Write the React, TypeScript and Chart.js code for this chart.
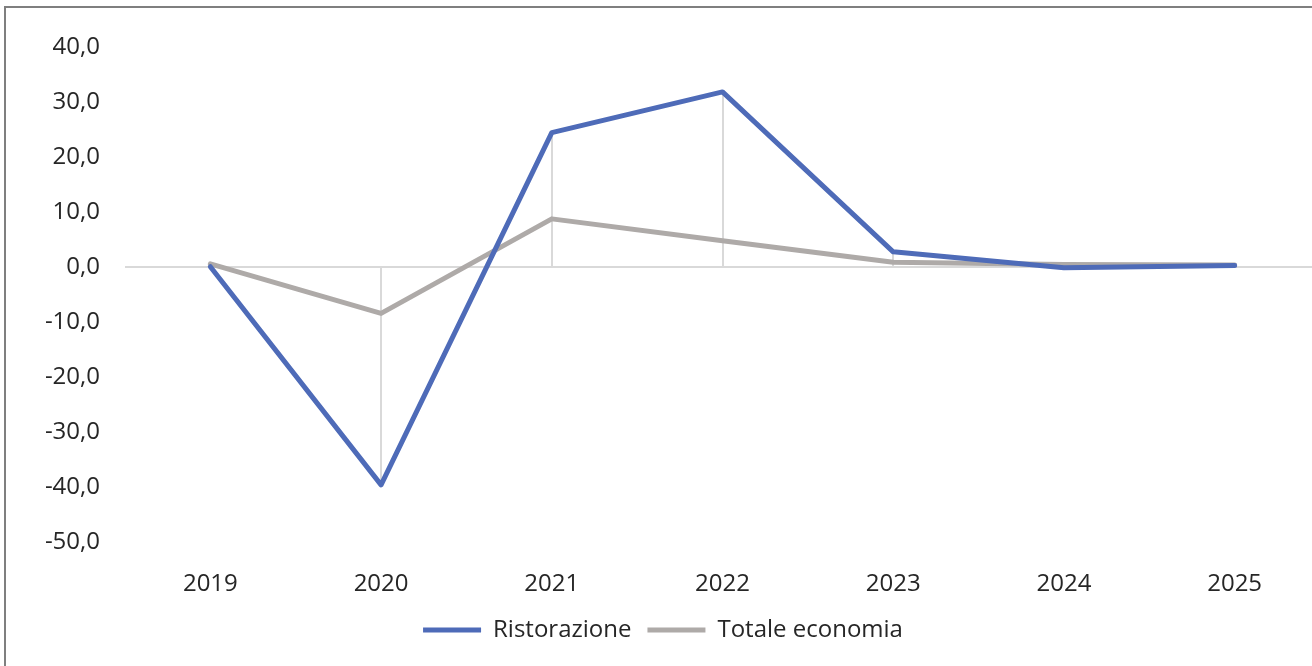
import React, { useEffect, useRef } from "react";
import { Chart, registerables } from "chart.js";

Chart.register(...registerables);

const categories = ["2019", "2020", "2021", "2022", "2023", "2024", "2025"];
const ristorazione = [0.1, -39.6, 24.5, 31.9, 2.8, -0.1, 0.3];
const totaleEconomia = [0.6, -8.4, 8.8, 4.8, 0.9, 0.5, 0.4];
const seriesNames = ["Ristorazione", "Totale economia"];
const yMin = -50;
const yMax = 40;
const yStep = 10;

const BLUE = "#4E6BB8";
const GRAY = "#AEAAA8";
const FONT = "'Open Sans', sans-serif";

const dropLines = {
  id: "dropLines",
  beforeDatasetsDraw(chart: any) {
    const { ctx, scales } = chart;
    const y = scales.y;
    const zero = y.getPixelForValue(0);
    ctx.save();
    ctx.strokeStyle = "#D9D9D9";
    ctx.lineWidth = 2;
    chart.data.datasets.forEach((ds: any, di: number) => {
      const meta = chart.getDatasetMeta(di);
      meta.data.forEach((pt: any) => {
        ctx.beginPath();
        ctx.moveTo(Math.round(pt.x), zero);
        ctx.lineTo(Math.round(pt.x), pt.y);
        ctx.stroke();
      });
    });
    ctx.restore();
  },
};

export default function App() {
  const ref = useRef<HTMLCanvasElement | null>(null);
  useEffect(() => {
    if (!ref.current) return;
    const chart = new Chart(ref.current, {
      type: "line",
      data: {
        labels: categories,
        datasets: [
          {
            label: seriesNames[0],
            data: ristorazione,
            borderColor: BLUE,
            backgroundColor: BLUE,
            borderWidth: 5,
            pointRadius: 0,
            pointStyle: "line",
            tension: 0,
            borderCapStyle: "round",
            borderJoinStyle: "round",
          },
          {
            label: seriesNames[1],
            data: totaleEconomia,
            borderColor: GRAY,
            backgroundColor: GRAY,
            borderWidth: 5,
            pointRadius: 0,
            pointStyle: "line",
            tension: 0,
            borderCapStyle: "round",
            borderJoinStyle: "round",
          },
        ],
      },
      options: {
        responsive: false,
        animation: false,
        layout: { padding: { top: 36, right: 16, bottom: 14, left: 0 } },
        plugins: {
          tooltip: { enabled: false },
          legend: {
            position: "bottom",
            labels: {
              color: "#262626",
              font: { family: FONT, size: 24 },
              usePointStyle: true,
              pointStyle: "line",
              pointStyleWidth: 58,
              boxHeight: 5,
              padding: 16,
            },
          },
        },
        scales: {
          x: {
            offset: true,
            grid: { display: false, drawTicks: false },
            border: { display: false },
            ticks: {
              color: "#262626",
              font: { family: FONT, size: 24 },
              padding: 28,
              maxRotation: 0,
            },
            afterFit: (s: any) => {
              s.height = 60;
            },
          },
          y: {
            min: yMin,
            max: yMax,
            border: { display: false },
            grid: {
              drawTicks: false,
              lineWidth: 2,
              color: (c: any) => (c.tick && c.tick.value === 0 ? "#D9D9D9" : "rgba(0,0,0,0)"),
            },
            ticks: {
              stepSize: yStep,
              color: "#262626",
              font: { family: FONT, size: 24 },
              padding: 25,
              callback: (v: any) => Number(v).toFixed(1).replace(".", ","),
            },
            afterFit: (s: any) => {
              s.width = 119;
            },
          },
        },
      },
      plugins: [dropLines],
    });
    return () => chart.destroy();
  }, []);

  return (
    <div
      style={{
        position: "fixed",
        left: 0,
        top: 0,
        width: 1312,
        height: 666,
        overflow: "hidden",
        background: "#fff",
      }}
    >
      <div
        style={{
          position: "absolute",
          left: 4,
          top: 6,
          width: 1340,
          height: 680,
          borderLeft: "2px solid #7F7F7F",
          borderTop: "2px solid #7F7F7F",
        }}
      >
        <canvas ref={ref} width={1330} height={658} style={{ display: "block" }} />
      </div>
    </div>
  );
}
